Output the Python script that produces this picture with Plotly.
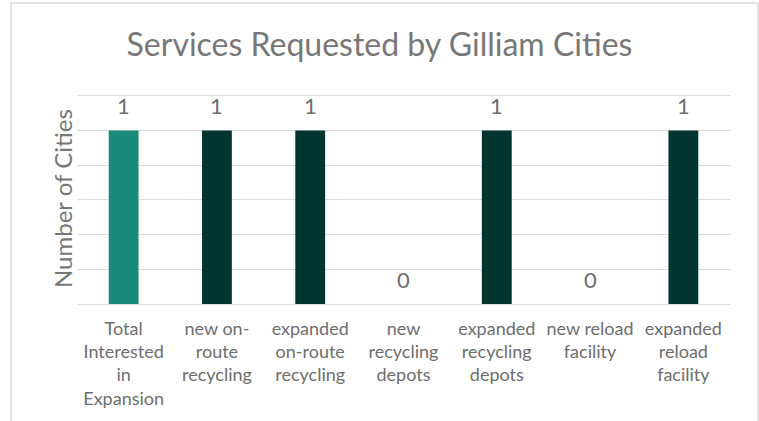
import plotly.graph_objects as go

categories = ["Total<br>Interested<br>in<br>Expansion", "new on-<br>route<br>recycling",
              "expanded<br>on-route<br>recycling", "new<br>recycling<br>depots",
              "expanded<br>recycling<br>depots", "new reload<br>facility",
              "expanded<br>reload<br>facility"]
values = [1, 1, 1, 0, 1, 0, 1]
colors = ["#1a8b78", "#02352f", "#02352f", "#02352f", "#02352f", "#02352f", "#02352f"]

W, H = 759, 421
L, R, T, B = 77, 29, 94, 117
pw, ph = W - L - R, H - T - B
TXT = "#6e6e6e"

fig = go.Figure()
fig.add_trace(go.Bar(x=categories, y=values, marker=dict(color=colors, line=dict(width=0)),
                     hoverinfo="skip"))

annotations = []
for c, v in zip(categories, values):
    annotations.append(dict(x=c, y=v, xref="x", yref="y", text=str(v), showarrow=False,
                            yshift=25, font=dict(family="Lato", size=22, color=TXT)))
annotations.append(dict(x=(62 - L) / pw, y=0.5, xref="paper", yref="paper",
                        text="Number of Cities", showarrow=False, textangle=-90,
                        xanchor="center", yanchor="middle",
                        font=dict(family="Lato", size=24, color="#777777")))

fig.update_layout(
    width=W, height=H,
    margin=dict(l=L, r=R, t=T, b=B, autoexpand=False),
    paper_bgcolor="white", plot_bgcolor="white",
    bargap=0.68,
    showlegend=False,
    title=dict(text="Services Requested by Gilliam Cities", x=0.5, xanchor="center",
               y=1 - 45 / H, yanchor="middle",
               font=dict(family="Lato", size=32, color="#777777")),
    font=dict(family="Lato", color=TXT),
    xaxis=dict(showgrid=False, showline=True, linecolor="#d9d9d9", linewidth=1,
               automargin=False, ticklabelstandoff=8,
               ticks="", tickfont=dict(family="Lato", size=18, color=TXT), tickangle=0),
    yaxis=dict(range=[0, 1.21], dtick=0.2, showgrid=True, gridcolor="#d9d9d9", gridwidth=1,
               showticklabels=False, zeroline=False, ticks="", automargin=False),
    annotations=annotations,
    shapes=[dict(type="rect", xref="paper", yref="paper",
                 x0=(11 - L) / pw, x1=(758 - L) / pw,
                 y0=(H - B - 430) / ph, y1=(H - B - 3) / ph,
                 line=dict(color="#d9d9d9", width=1.5), layer="below")],
)

fig.write_html("out.html", config={"displayModeBar": False},
               post_script="document.body.style.margin='0';")
